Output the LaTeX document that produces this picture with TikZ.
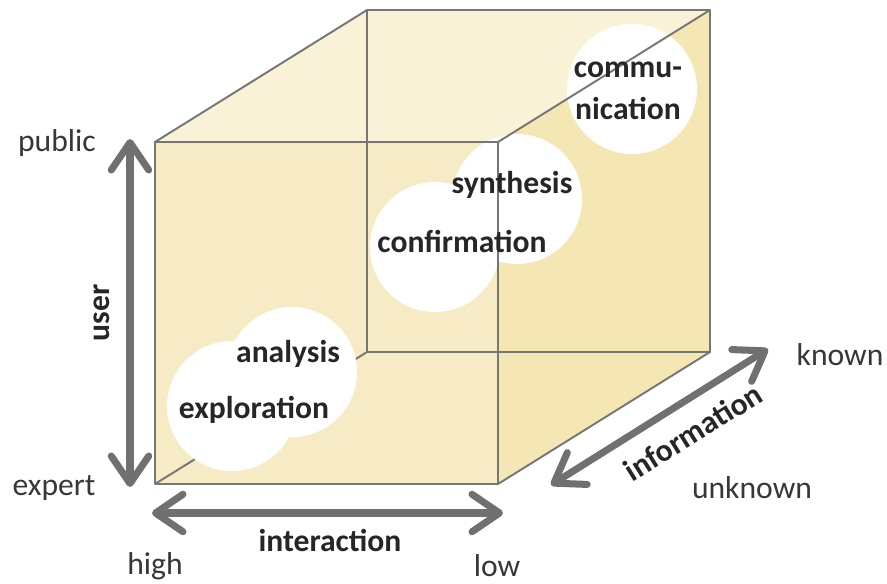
\documentclass[tikz,border=0pt]{standalone}
\usepackage{fontspec}
\setmainfont{Carlito}
\usetikzlibrary{positioning, arrows.meta}
\definecolor{cubeTop}{RGB}{250, 242, 214}
\definecolor{cubeFront}{RGB}{247, 235, 198}
\definecolor{cubeSide}{RGB}{245, 231, 180}
\definecolor{edgeGray}{RGB}{118, 118, 118}
\definecolor{axisGray}{RGB}{112, 112, 112}
\definecolor{labelGray}{RGB}{55, 55, 55}
\tikzset{
  cubeedge/.style={draw=edgeGray, line width=1.1pt, line join=round},
  blob/.style={circle, fill=white, minimum size=2.6cm, inner sep=0pt},
  stage/.style={font=\fontsize{18}{24}\selectfont\bfseries, text=black!85,
                align=center, inner sep=0pt},
  endlabel/.style={font=\fontsize{18}{24}\selectfont, text=labelGray,
                   inner sep=0pt},
  axislabel/.style={font=\fontsize{18}{24}\selectfont\bfseries, text=black!85,
                    inner sep=0pt},
}

\begin{document}
\begin{tikzpicture}[
    x=0.02cm, y=-0.02cm,
    axis/.style={{Straight Barb[round, length=0.55cm, width=0.75cm]}-{Straight Barb[round, length=0.55cm, width=0.75cm]},
                 draw=axisGray, line width=4pt},
  ]
    \useasboundingbox (0,0) rectangle (887,583);

    % cube corners
    \coordinate (FBL) at (155,484);
    \coordinate (FBR) at (498,484);
    \coordinate (FTR) at (498,142);
    \coordinate (FTL) at (155,142);
    \coordinate (BBL) at (367,352);
    \coordinate (BBR) at (710,352);
    \coordinate (BTR) at (710,10);
    \coordinate (BTL) at (367,10);

    % faces
    \fill[cubeTop] (FTL) -- (FTR) -- (BTR) -- (BTL) -- cycle;
    \fill[cubeFront] (FTL) -- (FTR) -- (FBR) -- (FBL) -- cycle;
    \fill[cubeSide] (FTR) -- (BTR) -- (BBR) -- (FBR) -- cycle;

    % hidden edges
    \draw[cubeedge] (FBL) -- (BBL) -- (BBR);
    \draw[cubeedge] (BBL) -- (BTL);

    % task circles
    \node[blob] (Csyn) at (517,199) {};
    \node[blob] (Cconf) at (435,247) {};
    \node[blob] (Ccomm) at (632,89) {};
    \node[blob] (Cana) at (292,372) {};
    \node[blob] (Cexp) at (232,406) {};

    % visible edges
    \draw[cubeedge] (FTL) -- (FTR) -- (FBR) -- (FBL) -- cycle;
    \draw[cubeedge] (FTL) -- (BTL) -- (BTR) -- (FTR);
    \draw[cubeedge] (BTR) -- (BBR) -- (FBR);

    % task names
    \node[stage] (comm) at (628,91) {commu-\\nication};
    \node[stage] (syn) at (512,185) {synthesis};
    \node[stage] (conf) at (462,241) {confirmation};
    \node[stage] (ana) at (288,354) {analysis};
    \node[stage] (expl) at (254,410) {exploration};

    % axes
    \coordinate (userTop) at (130,139);
    \coordinate (userBot) at (130,487);
    \coordinate (interL) at (152,513);
    \coordinate (interR) at (503,513);
    \coordinate (infoL) at (551,485);
    \coordinate (infoR) at (768,349);

    \draw[axis] (userTop) -- (userBot);
    \draw[axis] (interL) -- (interR);
    \draw[axis] (infoL) -- (infoR);

    \node[axislabel, rotate=90] (user) at (102,313) {user};
    \node[axislabel] (inter) at (330,540) {interaction};
    \node[axislabel, rotate=32] (info) at (693,432) {information};

    \node[endlabel] (public) at (57,143) {public};
    \node[endlabel] (expert) at (54,488) {expert};
    \node[endlabel] (high) at (155,566) {high};
    \node[endlabel] (low) at (497,566) {low};
    \node[endlabel] (known) at (840,355) {known};
    \node[endlabel] (unknown) at (752,488) {unknown};
  \end{tikzpicture}
\end{document}
